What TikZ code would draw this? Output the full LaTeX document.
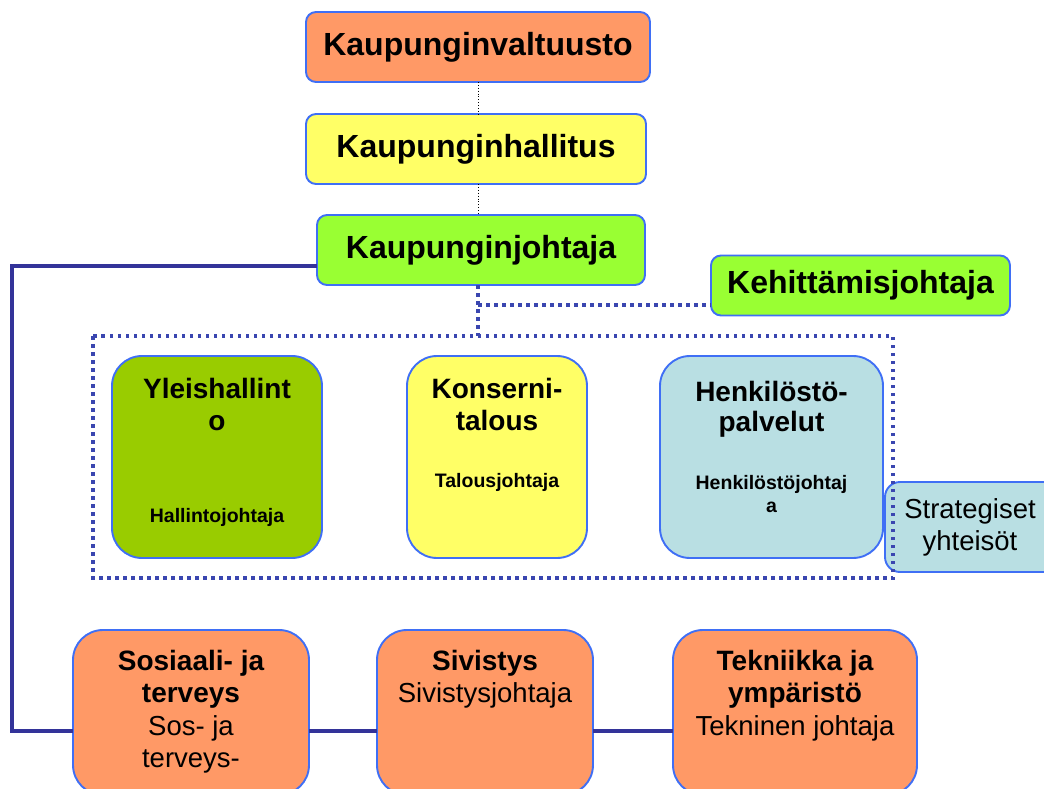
\documentclass[tikz,border=0pt]{standalone}
\usepackage{fontspec}
\setmainfont{Liberation Sans}
\definecolor{cOrange}{HTML}{FF9966}
\definecolor{cYellow}{HTML}{FFFF66}
\definecolor{cLime}{HTML}{99FF33}
\definecolor{cOlive}{HTML}{99CC00}
\definecolor{cLblue}{HTML}{B9DFE3}
\definecolor{cBorder}{HTML}{3F6FF5}
\definecolor{cNavy}{HTML}{333399}
\definecolor{cDot}{HTML}{3A46B0}
\newcommand\fontTop{\fontsize{32}{36}\selectfont\bfseries}
\newcommand\fontMid{\fontsize{28}{32}\selectfont\bfseries}
\newcommand\fontSmall{\fontsize{19.5}{24}\selectfont\bfseries}
\newcommand\fontReg{\fontsize{27.5}{32}\selectfont}
\tikzset{
  box/.style={draw=cBorder, line width=1.9pt, inner sep=0pt, outer sep=0pt},
  topbox/.style={box, rounded corners=10pt, font=\fontTop},
  bigbox/.style={box, rounded corners=30pt},
  lbl/.style={anchor=base, inner sep=0pt, outer sep=0pt},
  thindot/.style={draw=black, line width=0.9pt, dotted},
  navydot/.style={draw=cDot, line width=3.2pt, dash pattern=on 3.5pt off 4.5pt},
  navyline/.style={draw=cNavy, line width=3.5pt},
}
\begin{document}
\begin{tikzpicture}[x=1pt, y=-1pt]
\useasboundingbox (0,0) rectangle (1044,789);
\clip (0,0) rectangle (1044,789);
% top chain
\node[topbox, fill=cOrange, minimum width=344pt, minimum height=70pt] (valt) at (478,47) {Kaupunginvaltuusto};
\node[topbox, fill=cYellow, minimum width=340pt, minimum height=70pt] (hall) at (476,149) {Kaupunginhallitus};
\node[topbox, fill=cLime, minimum width=328pt, minimum height=70pt] (joht) at (481,250) {Kaupunginjohtaja};
\node[topbox, fill=cLime, minimum width=299pt, minimum height=60pt] (keh) at (860.5,285.5) {Kehittämisjohtaja};
\draw[thindot] (478,82) coordinate (v1) -- (v1 |- hall.north);
\draw[thindot] (478,184) coordinate (v2) -- (v2 |- joht.north);
% middle boxes
\node[bigbox, fill=cOlive, minimum width=210pt, minimum height=202pt] (yleis) at (217,457) {};
\node[bigbox, fill=cYellow, minimum width=180pt, minimum height=202pt] (kons) at (497,457) {};
\node[bigbox, fill=cLblue, minimum width=223pt, minimum height=202pt] (henk) at (771.5,457) {};
\node[box, rounded corners=15pt, fill=cLblue, minimum width=180pt, minimum height=90pt] (strat) at (975,527) {};
\node[lbl, font=\fontMid] (y1) at (217,398) {Yleishallint};
\node[lbl, font=\fontMid] (y2) at (217,430) {o};
\node[lbl, font=\fontSmall] (y3) at (217,522) {Hallintojohtaja};
\node[lbl, font=\fontMid] (k1) at (497,398) {Konserni-};
\node[lbl, font=\fontMid] (k2) at (497,430) {talous};
\node[lbl, font=\fontSmall] (k3) at (497,487) {Talousjohtaja};
\node[lbl, font=\fontMid] (h1) at (771.5,401) {Henkilöstö-};
\node[lbl, font=\fontMid] (h2) at (771.5,431) {palvelut};
\node[lbl, font=\fontSmall] (h3) at (771.5,489) {Henkilöstöjohtaj};
\node[lbl, font=\fontSmall] (h4) at (771.5,512) {a};
\node[lbl, font=\fontReg] (s1) at (970,518) {Strategiset};
\node[lbl, font=\fontReg] (s2) at (970,550) {yhteisöt};
% dotted group frame
\node[draw=none, inner sep=0pt, minimum width=800pt, minimum height=242pt] (grp) at (493,457) {};
\draw[navydot] (93,336) rectangle (893,578);
\draw[navydot] (478,285) coordinate (jb) -- (jb |- grp.north);
\draw[navydot] (478,305) coordinate (kb) -- (kb -| keh.west);
% bottom boxes
\node[bigbox, fill=cOrange, minimum width=236pt, minimum height=165pt] (sos) at (191,712.5) {};
\node[bigbox, fill=cOrange, minimum width=216pt, minimum height=165pt] (siv) at (485,712.5) {};
\node[bigbox, fill=cOrange, minimum width=244pt, minimum height=165pt] (tek) at (795,712.5) {};
\node[lbl, font=\fontMid] (so1) at (191,670) {Sosiaali- ja};
\node[lbl, font=\fontMid] (so2) at (191,702) {terveys};
\node[lbl, font=\fontReg] (so3) at (191,735) {Sos- ja};
\node[lbl, font=\fontReg] (so4) at (191,767) {terveys-};
\node[lbl, font=\fontMid] (si1) at (485,670) {Sivistys};
\node[lbl, font=\fontReg] (si2) at (485,702) {Sivistysjohtaja};
\node[lbl, font=\fontMid] (te1) at (795,670) {Tekniikka ja};
\node[lbl, font=\fontMid] (te2) at (795,702) {ympäristö};
\node[lbl, font=\fontReg] (te3) at (795,735) {Tekninen johtaja};
% solid connectors
\coordinate (jl) at (12,266);
\coordinate (bl) at (12,731);
\draw[navyline, line join=miter] (joht.west |- jl) -- (jl) -- (bl) -- (sos.west |- bl);
\draw[navyline] (sos.east |- bl) -- (siv.west |- bl);
\draw[navyline] (siv.east |- bl) -- (tek.west |- bl);
\end{tikzpicture}
\end{document}
